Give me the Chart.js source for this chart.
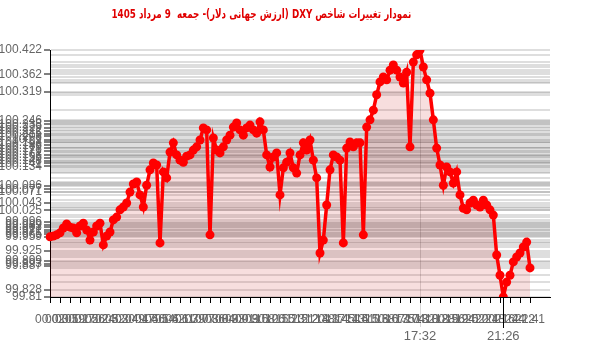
<!DOCTYPE html>
<html lang="fa">
<head>
    <meta charset="UTF-8">
    <title>DXY</title>
    <style>
        body { margin: 0; background: #fff; }
        #wrap { position: relative; width: 600px; height: 352px; }
        #title {
            position: absolute; top: 6px; right: 189px;
            direction: rtl; white-space: nowrap;
            font: bold 12.5px "DejaVu Sans", sans-serif; color: #e00000;
            transform: scaleX(0.7); transform-origin: right center;
        }
    </style>
</head>
<body>
    <div id="wrap">
        <canvas id="myChart" width="600" height="352"></canvas>
        <div id="title">نمودار تغییرات شاخص DXY (ارزش جهانی دلار)- جمعه&nbsp; 9 مرداد 1405</div>
    </div>
    <script src="https://cdn.jsdelivr.net/npm/chart.js"></script>
    <script>
        // زمان هر نقطه
        const times = [
            '00:02','00:11','00:21','00:30','00:40','00:49','00:59','01:08','01:18','01:27',
            '01:37','01:46','01:56','02:05','02:15','02:24','02:33','02:43','02:52','03:02',
            '03:11','03:20','03:30','03:39','03:49','03:58','04:08','04:17','04:27','04:36',
            '04:46','04:55','05:05','05:14','05:24','05:33','05:42','05:52','06:01','06:11',
            '06:20','06:29','06:39','06:48','06:58','07:07','07:17','07:26','07:36','07:45',
            '07:55','08:04','08:14','08:23','08:33','08:42','08:52','09:01','09:11','09:20',
            '09:30','09:39','09:49','09:58','10:08','10:17','10:26','10:36','10:45','10:55',
            '11:04','11:13','11:23','11:32','11:42','11:51','12:01','12:10','12:20','12:29',
            '12:39','12:48','12:58','13:07','13:17','13:26','13:35','13:45','13:54','14:04',
            '14:13','14:22','14:32','14:41','14:51','15:00','15:10','15:19','15:29','15:38',
            '15:48','15:57','16:07','16:16','16:26','16:35','16:45','16:54','17:04','17:13',
            '17:23','17:32','17:41','17:51','18:00','18:09','18:19','18:28','18:37','18:47',
            '18:56','19:05','19:15','19:24','19:33','19:43','19:52','20:01','20:11','20:20',
            '20:30','20:39','20:48','20:58','21:07','21:16','21:26','21:35','21:44','21:54',
            '22:03','22:12','22:22','22:31','22:41'
        ];

        const dxy = [
            99.959, 99.961, 99.964, 99.969, 99.981, 99.991, 99.983, 99.981, 99.969, 99.986,
            99.993, 99.976, 99.951, 99.971, 99.986, 99.993, 99.939, 99.961, 99.971, 100.001,
            100.008, 100.026, 100.033, 100.043, 100.070, 100.090, 100.095, 100.063, 100.033, 100.087,
            100.125, 100.142, 100.137, 99.944, 100.120, 100.105, 100.169, 100.192, 100.162, 100.149,
            100.144, 100.159, 100.162, 100.174, 100.182, 100.199, 100.229, 100.224, 99.964, 100.204,
            100.174, 100.167, 100.182, 100.199, 100.211, 100.231, 100.241, 100.224, 100.211, 100.229,
            100.236, 100.224, 100.216, 100.244, 100.224, 100.162, 100.132, 100.157, 100.167, 100.063,
            100.130, 100.144, 100.167, 100.130, 100.117, 100.162, 100.192, 100.174, 100.199, 100.149,
            100.105, 99.919, 99.951, 100.038, 100.125, 100.162, 100.157, 100.149, 99.944, 100.179,
            100.194, 100.182, 100.192, 100.192, 99.964, 100.231, 100.249, 100.273, 100.311, 100.343,
            100.355, 100.348, 100.372, 100.385, 100.372, 100.355, 100.340, 100.367, 100.182, 100.392,
            100.410, 100.422, 100.380, 100.348, 100.315, 100.249, 100.179, 100.137, 100.087, 100.132,
            100.120, 100.092, 100.120, 100.063, 100.030, 100.026, 100.043, 100.050, 100.038, 100.033,
            100.050, 100.038, 100.026, 100.013, 99.914, 99.864, 99.810, 99.847, 99.864, 99.897,
            99.909, 99.919, 99.934, 99.946, 99.882
        ];

        // مقادیری که روی محور عمودی برچسب دارند
        const yLabelValues = [
            100.422, 100.362, 100.319,
            100.246, 100.238, 100.229, 100.222, 100.215, 100.208, 100.2, 100.193,
            100.186, 100.178, 100.171, 100.163, 100.155, 100.148, 100.141, 100.134,
            100.086, 100.077, 100.071, 100.043, 100.025,
            99.996, 99.989, 99.983, 99.977, 99.971, 99.965, 99.959,
            99.925, 99.899, 99.893, 99.887, 99.828, 99.81
        ];

        const extraSlots = ['', '', '', '', '', ''];
        const tickEvery = 3;

        const yMin = Math.min(...dxy);
        const yMax = Math.max(...dxy);
        const iMax = dxy.indexOf(yMax);
        const iMin = dxy.indexOf(yMin);

        const yTickValues = Array.from(new Set(dxy.concat(yLabelValues))).sort((a, b) => a - b);
        const isLabeled = v => yLabelValues.some(l => Math.abs(l - v) < 1e-9);

        const markerPlugin = {
            id: 'markerPlugin',
            beforeDatasetsDraw: (chart) => {
                const ctx = chart.ctx;
                const xs = chart.scales.x;
                const ys = chart.scales.y;
                const xa = xs.getPixelForValue(iMax);
                const xb = xs.getPixelForValue(iMin);
                ctx.save();
                ctx.lineWidth = 1;
                ctx.strokeStyle = 'rgba(0,0,0,0.15)';
                ctx.beginPath();
                ctx.moveTo(Math.round(xa) + 0.5, ys.getPixelForValue(yMax));
                ctx.lineTo(Math.round(xa) + 0.5, 327);
                ctx.stroke();
                ctx.strokeStyle = '#000';
                ctx.beginPath();
                ctx.moveTo(Math.round(xb) + 0.5, ys.getPixelForValue(yMin));
                ctx.lineTo(Math.round(xb) + 0.5, 328);
                ctx.stroke();
                ctx.fillStyle = '#666';
                ctx.font = '13px "Liberation Sans", Arial, sans-serif';
                ctx.textAlign = 'center';
                ctx.textBaseline = 'middle';
                ctx.fillText(times[iMax], xa, 336);
                ctx.fillText(times[iMin], xb, 336);
                ctx.restore();
            }
        };

        const ctx = document.getElementById('myChart').getContext('2d');
        new Chart(ctx, {
            type: 'line',
            data: {
                labels: times.concat(extraSlots),
                datasets: [{
                    data: dxy,
                    borderColor: '#ff0000',
                    borderWidth: 3.5,
                    pointRadius: 4.5,
                    pointBackgroundColor: '#ff0000',
                    pointBorderWidth: 0,
                    backgroundColor: 'rgba(190, 0, 0, 0.13)',
                    fill: 'start',
                    tension: 0
                }]
            },
            options: {
                responsive: false,
                animation: false,
                layout: { padding: { left: 0, right: 50, top: 50, bottom: 0 } },
                plugins: {
                    legend: { display: false },
                    tooltip: { enabled: false }
                },
                scales: {
                    x: {
                        type: 'category',
                        afterBuildTicks: (scale) => {
                            scale.ticks = scale.ticks.filter(t => t.value % tickEvery === 0 && t.value < times.length);
                        },
                        afterFit: (scale) => { scale.height = 55; },
                        grid: { drawOnChartArea: false, tickLength: 6, tickColor: '#000' },
                        border: { color: '#000' },
                        ticks: {
                            autoSkip: false,
                            maxRotation: 0,
                            minRotation: 0,
                            padding: 9,
                            color: '#666',
                            font: { family: 'Liberation Sans, Arial', size: 12 }
                        }
                    },
                    y: {
                        min: yMin,
                        max: yMax,
                        afterBuildTicks: (scale) => {
                            scale.ticks = yTickValues.map(v => ({ value: v }));
                        },
                        afterFit: (scale) => { scale.width = 50; },
                        grid: {
                            color: 'rgba(0,0,0,0.13)',
                            lineWidth: 2,
                            tickLength: 6,
                            tickColor: (c) => (c.tick && isLabeled(c.tick.value)) ? '#000' : 'rgba(0,0,0,0)',
                            tickWidth: 1
                        },
                        border: { color: '#000' },
                        ticks: {
                            autoSkip: false,
                            padding: 2,
                            color: '#666',
                            font: { family: 'Liberation Sans, Arial', size: 12 },
                            callback: (v) => isLabeled(v) ? String(v) : ''
                        }
                    }
                }
            },
            plugins: [markerPlugin]
        });
    </script>
</body>
</html>
